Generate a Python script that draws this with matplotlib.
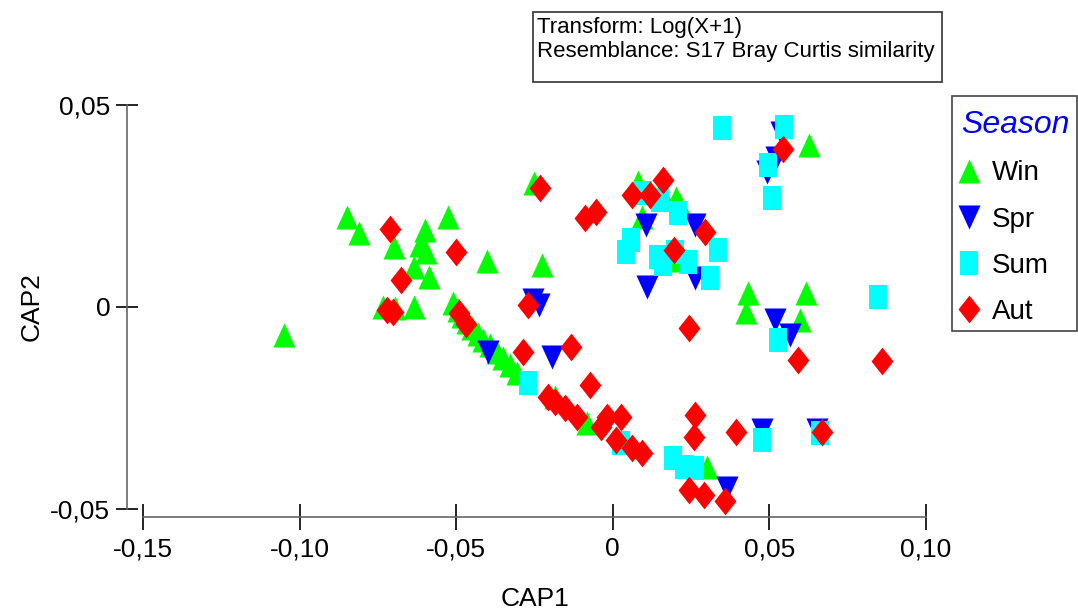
import matplotlib
matplotlib.use("Agg")
import matplotlib.pyplot as plt
from matplotlib.patches import Rectangle

plt.rcParams['font.family'] = ['Liberation Sans', 'DejaVu Sans']

# CAP scores, one pair of lists per season
win_x = [-0.1051, -0.0847, -0.0809, -0.0700, -0.0601, -0.0525, -0.0614, -0.0595, -0.0636, -0.0588,
         -0.0403, -0.0633, -0.0732, -0.0694, -0.0509, -0.0493, -0.0480, -0.0464, -0.0448, -0.0429,
         -0.0413, -0.0391, -0.0368, -0.0349, -0.0327, -0.0307, -0.0183, -0.0081, -0.0253, -0.0225,
         0.0082, 0.0158, 0.0203, 0.0216, 0.0095, 0.0194, 0.0628, 0.0433, 0.0427, 0.0618,
         0.0599, 0.0302]
win_y = [-0.0069, 0.0223, 0.0183, 0.0149, 0.0191, 0.0223, 0.0153, 0.0136, 0.0099, 0.0074,
         0.0114, 0.0000, 0.0000, -0.0002, 0.0010, -0.0007, -0.0022, -0.0037, -0.0052, -0.0067,
         -0.0082, -0.0094, -0.0111, -0.0126, -0.0144, -0.0163, -0.0223, -0.0287, 0.0307, 0.0104,
         0.0309, 0.0282, 0.0270, 0.0252, 0.0223, 0.0116, 0.0401, 0.0035, -0.0012, 0.0035,
         -0.0032, -0.0396]

spr_x = [-0.0256, -0.0234, 0.0110, -0.0397, -0.0193, 0.0107, 0.0264, 0.0264, 0.0538, 0.0522,
         0.0493, 0.0519, 0.0567, 0.0478, 0.0653, 0.0366]
spr_y = [0.0017, 0.0005, 0.0050, -0.0111, -0.0124, 0.0203, 0.0203, 0.0072, 0.0431, 0.0369,
         0.0334, -0.0032, -0.0069, -0.0304, -0.0304, -0.0448]

sum_x = [0.0350, 0.0548, 0.0497, 0.0510, 0.0337, 0.0312, 0.0098, 0.0152, 0.0210, 0.0057,
         0.0041, 0.0146, 0.0159, 0.0200, 0.0239, 0.0529, 0.0846, -0.0269, 0.0025, 0.0191,
         0.0226, 0.0264, 0.0478, 0.0663]
sum_y = [0.0443, 0.0446, 0.0351, 0.0270, 0.0141, 0.0072, 0.0282, 0.0265, 0.0233, 0.0166,
         0.0136, 0.0124, 0.0106, 0.0136, 0.0111, -0.0082, 0.0025, -0.0188, -0.0337, -0.0374,
         -0.0396, -0.0399, -0.0329, -0.0312]

aut_x = [-0.0710, -0.0502, -0.0677, -0.0720, -0.0701, -0.0492, -0.0467, -0.0269, -0.0288, -0.0132,
         -0.0074, -0.0208, -0.0183, -0.0151, -0.0113, -0.0039, -0.0017, 0.0025, 0.0009, 0.0063,
         0.0095, 0.0264, 0.0261, 0.0395, 0.0669, 0.0245, 0.0290, 0.0357, 0.0592, -0.0087,
         -0.0055, 0.0063, 0.0120, 0.0159, 0.0296, 0.0197, -0.0231, 0.0545, 0.0861, 0.0244]
aut_y = [0.0193, 0.0136, 0.0067, -0.0007, -0.0012, -0.0015, -0.0042, 0.0005, -0.0111, -0.0099,
         -0.0193, -0.0223, -0.0235, -0.0250, -0.0272, -0.0297, -0.0272, -0.0272, -0.0329, -0.0349,
         -0.0361, -0.0267, -0.0322, -0.0309, -0.0309, -0.0453, -0.0465, -0.0480, -0.0131, 0.0220,
         0.0235, 0.0277, 0.0277, 0.0314, 0.0186, 0.0141, 0.0295, 0.0391, -0.0134, -0.0052]

seasons = ['Win', 'Spr', 'Sum', 'Aut']

x_ticks = [-0.15, -0.10, -0.05, 0.0, 0.05, 0.10]
x_tick_labels = ['-0,15', '-0,10', '-0,05', '0', '0,05', '0,10']
y_ticks = [-0.05, 0.0, 0.05]
y_tick_labels = ['-0,05', '0', '0,05']

# marker shapes a little taller than wide, as in the PRIMER output
tri_up = [(-0.92, -1), (0.92, -1), (0, 1), (-0.92, -1)]
tri_down = [(-0.92, 1), (0.92, 1), (0, -1), (-0.92, 1)]
square = [(-0.79, -1), (0.79, -1), (0.79, 1), (-0.79, 1), (-0.79, -1)]
diamond = [(0, -1), (0.79, 0), (0, 1), (-0.79, 0), (0, -1)]

W, H = 1078, 612
fig = plt.figure(figsize=(W / 100, H / 100), dpi=100)
ax = fig.add_axes([127 / W, (H - 517) / H, (940 - 127) / W, (517 - 90) / H])

handles = []
for xs, ys, mk, col, ms in [(win_x, win_y, tri_up, '#00ff00', 17.3),
                            (spr_x, spr_y, tri_down, '#0000ff', 17.3),
                            (sum_x, sum_y, square, '#00ffff', 17.3),
                            (aut_x, aut_y, diamond, '#ff0000', 20)]:
    h, = ax.plot(xs, ys, ls='none', marker=mk, color=col, ms=ms, mew=0)
    handles.append(h)

ax.set_xlim(-0.1551, 0.1045)
ax.set_ylim(-0.05198, 0.0537)
ax.set_xticks(x_ticks)
ax.set_xticklabels(x_tick_labels)
ax.set_yticks(y_ticks)
ax.set_yticklabels(y_tick_labels)

for side in ['top', 'right']:
    ax.spines[side].set_visible(False)
ax.spines['left'].set_bounds(-0.05, 0.05)
ax.spines['bottom'].set_bounds(-0.15, 0.10)
for side in ['left', 'bottom']:
    ax.spines[side].set_color('#666666')
    ax.spines[side].set_linewidth(1.2)
ax.tick_params(axis='y', direction='inout', length=16, width=1.2, labelsize=19, pad=4)
ax.tick_params(axis='x', direction='inout', length=19, width=1.2, labelsize=19, pad=5)

ax.set_xlabel('CAP1', fontsize=19, va='top')
ax.xaxis.set_label_coords(0.502, -0.164)
ax.set_ylabel('CAP2', fontsize=19)
ax.yaxis.set_label_coords(-0.102, 0.492)

# legend content without its own frame; the box is drawn separately
leg = ax.legend(handles, seasons, title='Season', loc='upper left',
                bbox_to_anchor=(961 / W, 1 - 110 / H), bbox_transform=fig.transFigure,
                frameon=False, fontsize=20, alignment='left',
                title_fontproperties={'size': 23, 'style': 'italic'},
                labelspacing=0.73, handlelength=0.58, handletextpad=0.54,
                borderpad=0, borderaxespad=0)
leg.get_title().set_color('#0000ff')
fig.add_artist(Rectangle((952 / W, 1 - 331 / H), (1077 - 952) / W, (331 - 96) / H,
                         transform=fig.transFigure, fill=False, lw=1.2, edgecolor='#444444'))

# info box at the top
fig.add_artist(Rectangle((533 / W, 1 - 82 / H), (942 - 533) / W, 70 / H,
                         transform=fig.transFigure, fill=False, lw=1.2, edgecolor='#333333'))
fig.text(537 / W, 1 - 27 / H, 'Transform: Log(X+1)', va='center', fontsize=16)
fig.text(537 / W, 1 - 52 / H, 'Resemblance: S17 Bray Curtis similarity', va='center', fontsize=16)

fig.savefig('out.png', dpi=100)
